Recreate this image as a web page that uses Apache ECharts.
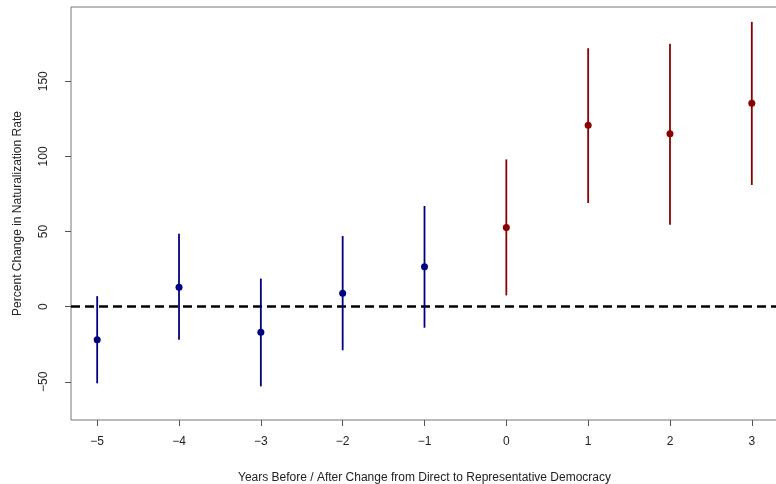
<!DOCTYPE html>
<html>
<head>
<meta charset="utf-8">
<script src="https://cdn.jsdelivr.net/npm/echarts@6/dist/echarts.min.js"></script>
<style>
  html, body { margin: 0; padding: 0; background: #fff; }
  #chart { width: 776px; height: 484px; }
</style>
</head>
<body>
<div id="chart"></div>
<script>
// Event-study estimates: years relative to the switch to representative democracy
const years    = [-5, -4, -3, -2, -1, 0, 1, 2, 3];
const estimate = [-22, 13, -17, 9, 26.5, 52.7, 120.7, 115, 135.3];
const lower    = [-51, -22, -53, -29, -14, 7.5, 69, 54.5, 81];
const upper    = [7, 48.5, 18.7, 47, 67, 98, 172, 175, 189.5];

const xTicks = [-5, -4, -3, -2, -1, 0, 1, 2, 3];
const yTicks = [-50, 0, 50, 100, 150];

const BEFORE = '#000080';
const AFTER = '#8B0000';
const colorFor = (yr) => (yr < 0 ? BEFORE : AFTER);

const FONT = '"Liberation Sans", Arial, sans-serif';

const pointData = years.map((yr, i) => ({
  value: [yr, estimate[i]],
  itemStyle: { color: colorFor(yr), opacity: 1 }
}));
const barData = years.map((yr, i) => [yr, lower[i], upper[i]]);

const minusFmt = (v) => (v < 0 ? '\u2212' + Math.abs(v) : String(v));

const chart = echarts.init(document.getElementById('chart'), null, { renderer: 'canvas' });
chart.setOption({
  animation: false,
  backgroundColor: '#fff',
  grid: {
    left: 71, top: 7, width: 707, height: 413,
    outerBoundsMode: 'none',
    containLabel: false,
    show: true, borderColor: '#777', borderWidth: 1, backgroundColor: 'transparent'
  },
  xAxis: {
    type: 'value',
    min: -5.32, max: 3.32,
    name: 'Years Before / After Change from Direct to Representative Democracy',
    nameLocation: 'middle',
    nameGap: 52,
    nameTextStyle: { fontFamily: FONT, fontSize: 12, color: '#222', verticalAlign: 'top' },
    axisLine: { show: false, onZero: false },
    splitLine: { show: false },
    axisTick: { show: true, length: 6, lineStyle: { color: '#555' }, customValues: xTicks },
    axisLabel: { fontFamily: FONT, fontSize: 12, color: '#222', margin: 16,
      customValues: xTicks, formatter: minusFmt }
  },
  yAxis: {
    type: 'value',
    min: -75.4, max: 199.4,
    name: 'Percent Change in Naturalization Rate',
    nameLocation: 'middle',
    nameGap: 47,
    nameRotate: 90,
    nameTextStyle: { fontFamily: FONT, fontSize: 12, color: '#222' },
    axisLine: { show: false, onZero: false },
    splitLine: { show: false },
    axisTick: { show: true, length: 6, lineStyle: { color: '#555' }, customValues: yTicks },
    axisLabel: { fontFamily: FONT, fontSize: 12, color: '#222', rotate: 90, margin: 21,
      customValues: yTicks, formatter: minusFmt }
  },
  series: [
    {
      type: 'custom',
      name: 'interval',
      data: barData,
      encode: { x: 0, y: [1, 2] },
      renderItem: (params, api) => {
        const yr = api.value(0);
        const p1 = api.coord([yr, api.value(1)]);
        const p2 = api.coord([yr, api.value(2)]);
        return {
          type: 'line',
          shape: { x1: p1[0], y1: p1[1], x2: p2[0], y2: p2[1] },
          style: { stroke: colorFor(yr), lineWidth: 1.8 }
        };
      },
      z: 2
    },
    {
      type: 'scatter',
      name: 'estimate',
      data: pointData,
      symbol: 'circle',
      symbolSize: 7,
      z: 3,
      markLine: {
        silent: true,
        symbol: 'none',
        label: { show: false },
        lineStyle: { color: '#000', width: 2.5, type: [9, 5] },
        data: [{ yAxis: 0 }],
        z: 1
      }
    }
  ]
});
</script>
</body>
</html>
